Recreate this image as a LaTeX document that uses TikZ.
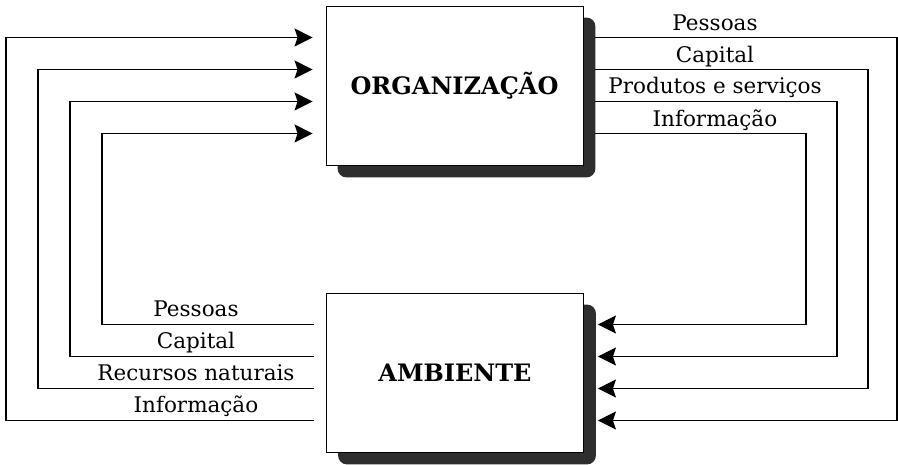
\documentclass[tikz,border=0pt]{standalone}
\usepackage{fontspec}
\setmainfont{DejaVu Serif}
\usepackage{tikz}
\usetikzlibrary{arrows.meta, positioning, backgrounds}

\tikzset{
    box/.style={draw, fill=white, line width=0.9pt, minimum width=257pt, minimum height=159pt, inner sep=0pt, font=\fontsize{24}{28}\selectfont\bfseries},
    shade/.style={fill=black!82, rounded corners=9pt},
    flow/.style={line width=1.2pt},
    lbl/.style={anchor=base, inner sep=0pt, font=\fontsize{21.5}{24}\selectfont}
}

\begin{document}
\begin{tikzpicture}[x=1pt, y=-1pt, >={Stealth[length=18pt, width=18pt, inset=3pt]}]
    \useasboundingbox (0,0) rectangle (898,465);

    % Nodes
    \node[box] (org) at (454.5, 85.5) {ORGANIZAÇÃO};
    \node[box] (amb) at (455, 372.5) {AMBIENTE};

    % Shadows
    \begin{scope}[on background layer]
        \fill[shade] ([shift={(12pt,-12pt)}]org.south west) rectangle ([shift={(12pt,-12pt)}]org.north east);
        \fill[shade] ([shift={(12pt,-12pt)}]amb.south west) rectangle ([shift={(12pt,-12pt)}]amb.north east);
    \end{scope}

    % Paths (ambiente -> organizacao)
    \foreach \x [count=\i from 0] in {6,38,70,102} {
        \pgfmathsetmacro\a{-48+32*\i}
        \pgfmathsetmacro\b{48-32*\i}
        \coordinate (in\i) at ([shift={(-13,\a)}]org.west);
        \coordinate (out\i) at ([shift={(-12,\b)}]amb.west);
        \draw[flow, ->] (out\i) -- (\x,0 |- out\i) -- (\x,0 |- in\i) -- (in\i);
    }

    % Paths (organizacao -> ambiente)
    \foreach \x [count=\i from 0] in {897,868,837,806} {
        \pgfmathsetmacro\a{-48+32*\i}
        \pgfmathsetmacro\b{48-32*\i}
        \coordinate (src\i) at ([shift={(12,\a)}]org.east);
        \coordinate (dst\i) at ([shift={(14,\b)}]amb.east);
        \draw[flow, ->] (src\i) -- (\x,0 |- src\i) -- (\x,0 |- dst\i) -- (dst\i);
    }

    % Labels
    \node[lbl] (pessoasR) at (715, 31) {Pessoas};
    \node[lbl] (capitalR) at (715, 63) {Capital};
    \node[lbl] (produtos) at (715, 94) {Produtos e serviços};
    \node[lbl] (infoR) at (715, 127) {Informação};

    \node[lbl] (pessoasL) at (196, 317) {Pessoas};
    \node[lbl] (capitalL) at (196, 349) {Capital};
    \node[lbl] (recursos) at (196, 381) {Recursos naturais};
    \node[lbl] (infoL) at (196, 413) {Informação};
\end{tikzpicture}
\end{document}
